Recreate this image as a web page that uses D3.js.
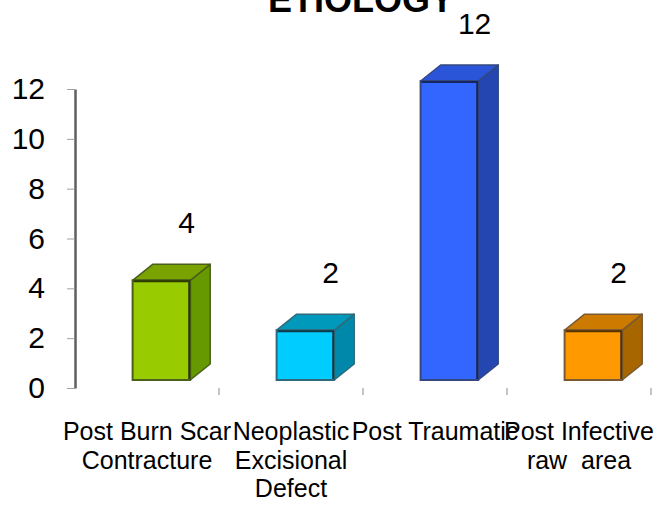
<!DOCTYPE html>
<html>
<head>
<meta charset="utf-8">
<script src="https://cdn.jsdelivr.net/npm/d3@7/dist/d3.min.js"></script>
<style>
  html, body { margin: 0; padding: 0; background: #fff; }
  svg { display: block; font-family: "Liberation Sans", Arial, sans-serif; }
</style>
</head>
<body>
<script>
// ---- data ----
const title = "ETIOLOGY";
const categories = [
  ["Post Burn Scar", "Contracture"],
  ["Neoplastic", "Excisional", "Defect"],
  ["Post Traumatic"],
  ["Post Infective", "raw  area"]
];
const values = [4, 2, 12, 2];
const yTicks = [0, 2, 4, 6, 8, 10, 12];

// ---- styles (palette per bar: front, top, side, edge) ----
const palette = [
  { front: "#99cc00", top: "#7aa300", side: "#669900", edge: "#4a5f1c", dark: "#2b3a00" },
  { front: "#00ccff", top: "#0099bb", side: "#0088aa", edge: "#2f6a7a", dark: "#0d3a48" },
  { front: "#3366ff", top: "#2b55d8", side: "#2446b0", edge: "#34487f", dark: "#152660" },
  { front: "#ff9900", top: "#cc7a00", side: "#a86600", edge: "#7a5a33", dark: "#553300" }
];

const W = 659, H = 505;
const svg = d3.select("body").append("svg").attr("width", W).attr("height", H);

const x = d3.scaleBand().domain(d3.range(categories.length)).range([75, 651]).padding(0);
const y = d3.scaleLinear().domain([0, 12]).range([388, 89]);

const depthX = 20, depthY = 16, lift = 8;
const bw = x.bandwidth();

// title (partly cut off at top, as in the original)
svg.append("text")
  .attr("x", 361).attr("y", 12)
  .attr("text-anchor", "middle")
  .attr("font-size", 36).attr("font-weight", "bold")
  .attr("fill", "#000")
  .text(title);

// y axis
const yAxis = svg.append("g")
  .attr("transform", "translate(75,0)")
  .call(d3.axisLeft(y).tickValues(yTicks).tickSize(8).tickSizeOuter(0).tickPadding(22));
yAxis.select(".domain").attr("stroke", "#5f5f5f").attr("stroke-width", 2.5);
yAxis.selectAll(".tick line").attr("stroke", "#a0a0a0").attr("stroke-width", 1);
yAxis.selectAll(".tick text")
  .attr("font-size", 30).attr("fill", "#000")
  .attr("font-family", "'Liberation Sans', Arial, sans-serif");

// x category boundary ticks
const bounds = d3.range(categories.length).map(i => x(i) + bw);
svg.append("g").selectAll("line").data(bounds).join("line")
  .attr("x1", d => d).attr("x2", d => d)
  .attr("y1", y(0)).attr("y2", y(0) + 7)
  .attr("stroke", "#8a8a8a").attr("stroke-width", 1);

// 3D bars
const bars = svg.append("g").selectAll("g").data(values).join("g");
bars.each(function (v, i) {
  const g = d3.select(this);
  const c = palette[i];
  const fl = x(i) + bw * 0.4;
  const fw = bw * 0.4;
  const fr = fl + fw;
  const top = y(v) - lift;
  const bot = y(0) - lift;
  // side face
  g.append("polygon")
    .attr("points", [[fr, top], [fr + depthX, top - depthY], [fr + depthX, bot - depthY], [fr, bot]].join(" "))
    .attr("fill", c.side).attr("stroke", c.edge).attr("stroke-width", 1.5).attr("stroke-linejoin", "round");
  // top face
  g.append("polygon")
    .attr("points", [[fl, top], [fl + depthX, top - depthY], [fr + depthX, top - depthY], [fr, top]].join(" "))
    .attr("fill", c.top).attr("stroke", c.edge).attr("stroke-width", 1.5).attr("stroke-linejoin", "round");
  // front face
  g.append("rect")
    .attr("x", fl).attr("y", top).attr("width", fw).attr("height", bot - top)
    .attr("fill", c.front).attr("stroke", c.edge).attr("stroke-width", 2);
  // dark shadow edges (top and right of front face)
  g.append("polyline")
    .attr("points", [[fl + 1, top + 1], [fr - 1, top + 1], [fr - 1, bot - 1]].join(" "))
    .attr("fill", "none").attr("stroke", c.dark).attr("stroke-width", 2);
  // value label
  g.append("text")
    .attr("x", fl + 54).attr("y", top - 47)
    .attr("text-anchor", "middle")
    .attr("font-size", 30).attr("fill", "#000")
    .text(v);
});

// category labels
const cat = svg.append("g").selectAll("text").data(categories).join("text")
  .attr("x", (d, i) => x(i) + bw / 2)
  .attr("y", 440)
  .attr("text-anchor", "middle")
  .attr("font-size", 25).attr("fill", "#000")
  .style("white-space", "pre");
cat.selectAll("tspan").data(d => d).join("tspan")
  .attr("x", function () { return d3.select(this.parentNode).attr("x"); })
  .attr("dy", (d, j) => j === 0 ? 0 : 28.5)
  .text(d => d);
</script>
</body>
</html>
